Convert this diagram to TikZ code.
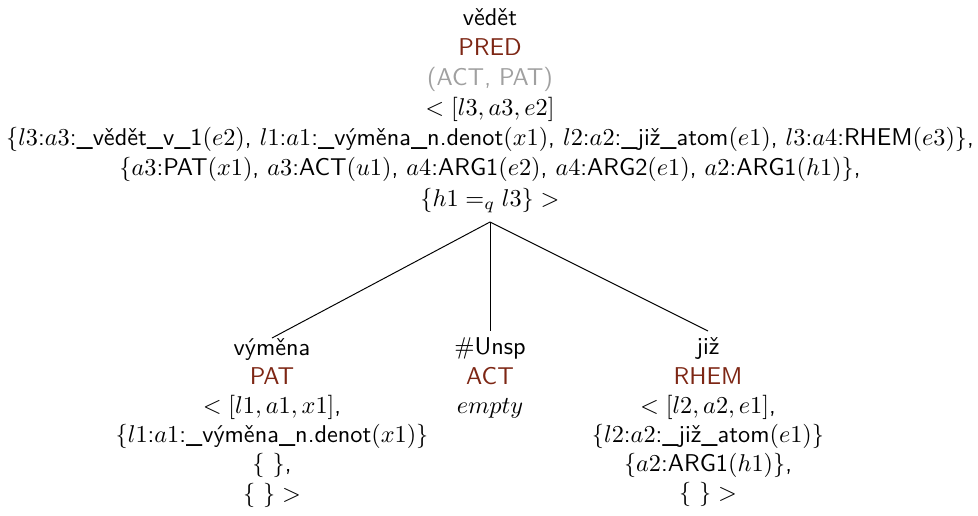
\documentclass[tikz,border=0pt]{standalone}
\usepackage{fontspec}
\usepackage{xcolor}
\definecolor{fncol}{RGB}{125,38,20}
\definecolor{valcol}{RGB}{160,160,160}
\newcommand{\fn}[1]{\textcolor{fncol}{#1}}
\newcommand{\vl}[1]{\textcolor{valcol}{#1}}
\begin{document}
\begin{tikzpicture}[x=0.4118pt,y=-0.4118pt,
  tn/.style={font=\sffamily, align=center, inner sep=0pt},
  edge/.style={line width=0.4pt}]
\useasboundingbox (0,0) rectangle (978,515);
\node[tn, anchor=south, outer ysep=3.7pt] (root) at (490,222)
 {vědět\\[0.4pt]
  \fn{PRED}\\[0.4pt]
  \vl{(ACT, PAT)}\\[0.4pt]
  $<[l3,a3,e2]$\\[0.4pt]
  $\{l3$:$a3$:\_vědět\_v\_1$(e2)$, $l1$:$a1$:\_výměna\_n.denot$(x1)$, $l2$:$a2$:\_již\_atom$(e1)$, $l3$:$a4$:RHEM$(e3)\}$,\\[0.4pt]
  $\{a3$:PAT$(x1)$, $a3$:ACT$(u1)$, $a4$:ARG1$(e2)$, $a4$:ARG2$(e1)$, $a2$:ARG1$(h1)\}$,\\[0.4pt]
  $\{h1=_q l3\} >$};
\node[tn, anchor=north] (c1) at (272,338)
 {výměna\\
  \fn{PAT}\\
  $<[l1,a1,x1]$,\\
  $\{l1$:$a1$:\_výměna\_n.denot$(x1)\}$\\
  $\{\ \}$,\\
  $\{\ \}>$};
\node[tn, anchor=north, outer ysep=2.9pt] (c2) at (490,331)
 {$\#$Unsp\\
  \fn{ACT}\\
  $empty$};
\node[tn, anchor=north, outer ysep=2.9pt] (c3) at (708,331)
 {již\\
  \fn{RHEM}\\
  $<[l2,a2,e1]$,\\
  $\{l2$:$a2$:\_již\_atom$(e1)\}$\\
  $\{a2$:ARG1$(h1)\}$,\\
  $\{\ \}>$};
\draw[edge] (root.south) -- (c1.north);
\draw[edge] (root.south) -- (c2.north);
\draw[edge] (root.south) -- (c3.north);
\end{tikzpicture}
\end{document}
